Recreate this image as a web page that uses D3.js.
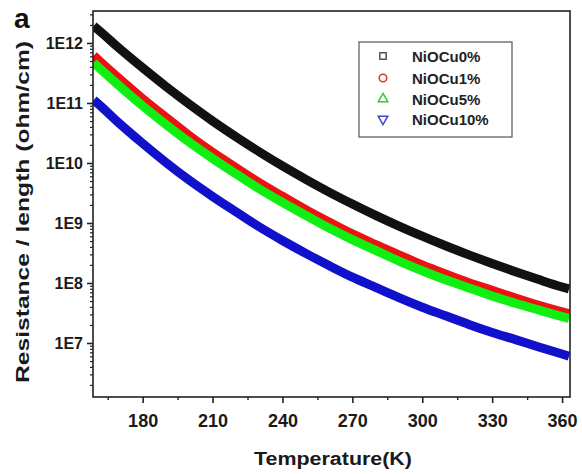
<!DOCTYPE html>
<html>
<head>
<meta charset="utf-8">
<script src="https://cdn.jsdelivr.net/npm/d3@7"></script>
<style>
  html, body { margin: 0; padding: 0; background: #fff; }
  svg { display: block; }
  text { font-family: "Liberation Sans", Arial, sans-serif; }
</style>
</head>
<body>
<svg id="chart" width="582" height="474"></svg>
<script>
// ---- data ----
const temperature = [159, 160, 170, 180, 190, 200, 210, 220, 230, 240, 250, 260, 270, 280, 290, 300, 310, 320, 330, 340, 350, 360, 363];
const cu0  = [1.91e12, 1.78e12, 8.13e11, 3.85e11, 1.88e11, 9.55e10, 5.01e10, 2.74e10, 1.54e10, 8.91e9, 5.33e9, 3.27e9, 2.07e9, 1.34e9, 8.87e8, 6.03e8, 4.17e8, 2.94e8, 2.11e8, 1.54e8, 1.14e8, 8.57e7, 7.94e7];
const cu1  = [6.17e11, 5.66e11, 2.54e11, 1.18e11, 5.78e10, 2.87e10, 1.51e10, 8.39e9, 4.72e9, 2.79e9, 1.67e9, 1.04e9, 6.58e8, 4.36e8, 2.94e8, 2.00e8, 1.41e8, 1.01e8, 7.55e7, 5.62e7, 4.25e7, 3.31e7, 3.09e7];
const cu5  = [4.68e11, 4.30e11, 1.93e11, 8.95e10, 4.39e10, 2.22e10, 1.19e10, 6.61e9, 3.72e9, 2.20e9, 1.34e9, 8.22e8, 5.28e8, 3.50e8, 2.32e8, 1.60e8, 1.13e8, 8.28e7, 6.07e7, 4.60e7, 3.55e7, 2.76e7, 2.57e7];
const cu10 = [1.12e11, 1.04e11, 4.57e10, 2.12e10, 1.02e10, 5.16e9, 2.77e9, 1.54e9, 8.65e8, 5.11e8, 3.12e8, 1.95e8, 1.25e8, 8.45e7, 5.70e7, 3.95e7, 2.84e7, 2.04e7, 1.50e7, 1.14e7, 8.57e6, 6.55e6, 6.03e6];
const seriesNames = ["NiOCu0%", "NiOCu1%", "NiOCu5%", "NiOCu10%"];
const xTicks = [180, 210, 240, 270, 300, 330, 360];
const xMinorTicks = [165, 195, 225, 255, 285, 315, 345];
const yTicks = [1e7, 1e8, 1e9, 1e10, 1e11, 1e12];
const yTickLabels = ["1E7", "1E8", "1E9", "1E10", "1E11", "1E12"];

// ---- styling / layout ----
const colors = ["#111111", "#ee1111", "#11ee11", "#1111cc"];
const symColors = ["#555555", "#dd3333", "#33cc33", "#4444cc"];
const symbols = [d3.symbolSquare, d3.symbolCircle, d3.symbolTriangle, d3.symbolTriangle];
const L = 93, R = 570, T = 11, B = 397;

const svg = d3.select("#chart");
const x = d3.scaleLinear().domain([158.7, 363.4]).range([L, R]);
const y = d3.scaleLog().domain([Math.pow(10, 6.1), Math.pow(10, 12.533)]).range([B, T]);

svg.append("defs").append("clipPath").attr("id", "clip")
  .append("rect").attr("x", L).attr("y", T).attr("width", R - L).attr("height", B - T);

const allSeries = [cu0, cu1, cu5, cu10];
const line = d3.line().x((d, i) => x(temperature[i])).y(d => y(d)).curve(d3.curveMonotoneX);
const g = svg.append("g").attr("clip-path", "url(#clip)");
allSeries.forEach((s, k) => {
  g.append("path").datum(s)
    .attr("d", line)
    .attr("fill", "none")
    .attr("stroke", colors[k])
    .attr("stroke-width", 9)
    .attr("stroke-linejoin", "round");
});

// frame
svg.append("rect").attr("x", L).attr("y", T).attr("width", R - L).attr("height", B - T)
  .attr("fill", "none").attr("stroke", "#222").attr("stroke-width", 1.6);

// x axis
const xAxis = d3.axisBottom(x).tickValues(xTicks).tickSize(6).tickSizeOuter(0).tickPadding(11);
const xa = svg.append("g").attr("transform", `translate(0,${B})`).call(xAxis);
xa.select(".domain").remove();
xa.selectAll("line").attr("stroke", "#222").attr("stroke-width", 1.6);
xa.selectAll("text").attr("font-size", 18).attr("font-weight", "bold").attr("fill", "#1a1a1a");
const xm = d3.axisBottom(x).tickValues(xMinorTicks).tickSize(3).tickFormat("").tickSizeOuter(0);
const xma = svg.append("g").attr("transform", `translate(0,${B})`).call(xm);
xma.select(".domain").remove();
xma.selectAll("line").attr("stroke", "#222").attr("stroke-width", 1.4);

// y axis
const yAxis = d3.axisLeft(y).tickValues(yTicks).tickFormat((d, i) => yTickLabels[i]).tickSize(6).tickSizeOuter(0).tickPadding(4);
const ya = svg.append("g").attr("transform", `translate(${L},0)`).call(yAxis);
ya.select(".domain").remove();
ya.selectAll("line").attr("stroke", "#222").attr("stroke-width", 1.6);
ya.selectAll("text").attr("font-size", 16).attr("font-weight", "bold").attr("fill", "#1a1a1a");
const yMinorVals = [];
for (let e = 6; e <= 12; e++) for (let m = 2; m <= 9; m++) { const v = m * Math.pow(10, e); if (v > y.domain()[0] && v < y.domain()[1]) yMinorVals.push(v); }
const ym = d3.axisLeft(y).tickValues(yMinorVals).tickSize(3).tickFormat("").tickSizeOuter(0);
const yma = svg.append("g").attr("transform", `translate(${L},0)`).call(ym);
yma.select(".domain").remove();
yma.selectAll("line").attr("stroke", "#222").attr("stroke-width", 1.2);

// axis titles
svg.append("text").attr("x", 333).attr("y", 465).attr("text-anchor", "middle")
  .attr("font-size", 18).attr("font-weight", "bold").attr("fill", "#1a1a1a")
  .attr("textLength", 158).attr("lengthAdjust", "spacingAndGlyphs")
  .text("Temperature(K)");
svg.append("text").attr("transform", "translate(29,212) rotate(-90)").attr("text-anchor", "middle")
  .attr("font-size", 18).attr("font-weight", "bold").attr("fill", "#1a1a1a")
  .attr("textLength", 342).attr("lengthAdjust", "spacingAndGlyphs")
  .text("Resistance / length (ohm/cm)");

// panel label
svg.append("text").attr("x", 14).attr("y", 28).attr("font-size", 28).attr("font-weight", "bold")
  .attr("fill", "#111").text("a");

// legend
const lg = svg.append("g");
lg.append("rect").attr("x", 359).attr("y", 42).attr("width", 153).attr("height", 95)
  .attr("fill", "#fff").attr("stroke", "#555").attr("stroke-width", 1.2);
const rowY = [56, 78, 99, 119];
seriesNames.forEach((n, k) => {
  const sym = d3.symbol().type(symbols[k]).size(k === 1 ? 45 : 40);
  lg.append("path").attr("d", sym())
    .attr("transform", `translate(383,${rowY[k]})` + (k === 3 ? " rotate(180)" : ""))
    .attr("fill", "none").attr("stroke", symColors[k]).attr("stroke-width", 1.5);
  lg.append("text").attr("x", 412).attr("y", rowY[k] + 5.5)
    .attr("font-size", 15).attr("font-weight", "bold").attr("fill", "#222").text(n);
});
</script>
</body>
</html>
